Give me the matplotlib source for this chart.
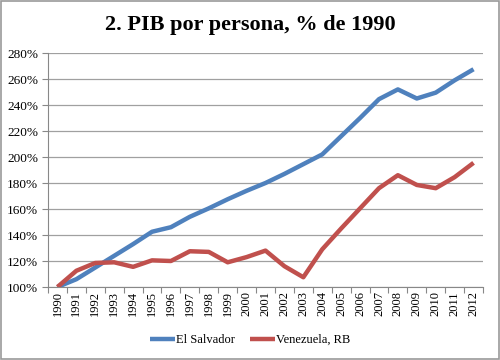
import matplotlib
matplotlib.use("Agg")
import matplotlib.pyplot as plt
from matplotlib.ticker import FixedLocator, FuncFormatter

years = [str(y) for y in range(1990, 2013)]
el_salvador = [100, 106, 115, 124, 133, 142.5, 146, 154, 160.5, 167.5, 174, 180, 187,
               194.5, 202, 216, 230, 244.5, 252, 245, 249.5, 259, 267.5]
venezuela = [100, 112.5, 118.5, 119, 115.5, 120.5, 120, 127.5, 127, 119, 123, 128, 116,
             107.5, 129, 145, 160.5, 176, 186, 178.5, 176, 184.5, 195.5]
yticks = [100, 120, 140, 160, 180, 200, 220, 240, 260, 280]

plt.rcParams['font.family'] = ['Liberation Serif', 'DejaVu Serif']

fig = plt.figure(figsize=(5, 3.6), dpi=100)
ax = fig.add_axes([48/500, 1 - 287/360, (483-48)/500, (287-53)/360])

x = list(range(len(years)))
ax.plot(x, el_salvador, color='#4F81BD', lw=3.2, label='El Salvador', solid_capstyle='butt', zorder=3)
ax.plot(x, venezuela, color='#C0504D', lw=3.2, label='Venezuela, RB', solid_capstyle='butt', zorder=3)

ax.set_xlim(-0.5, len(years) - 0.5)
ax.set_ylim(100, 280)
ax.set_yticks(yticks)
ax.yaxis.set_major_formatter(FuncFormatter(lambda v, p: f"{int(v)}%"))
ax.grid(axis='y', color='#A0A0A0', lw=0.9, zorder=0)

ax.xaxis.set_major_locator(FixedLocator([i - 0.5 for i in range(len(years) + 1)]))
ax.xaxis.set_major_formatter(FuncFormatter(lambda v, p: ""))
ax.set_xticks(x, minor=True)
ax.set_xticklabels(years, minor=True, rotation=90, fontsize=9)
ax.tick_params(axis='x', which='minor', length=0, pad=3)
ax.tick_params(axis='x', which='major', length=4, color='#888888')
ax.tick_params(axis='y', length=4, color='#888888', labelsize=9.5, pad=3)

for s in ['top', 'right']:
    ax.spines[s].set_visible(False)
ax.spines['left'].set_color('#888888')
ax.spines['bottom'].set_color('#888888')

fig.text(0.5, 1 - 25/360, '2. PIB por persona, % de 1990', ha='center', va='center',
         fontsize=16, fontweight='bold')

fig.legend(loc='center', bbox_to_anchor=(0.5, 1 - 340/360), ncol=2, frameon=False,
           fontsize=9, handlelength=2.0, columnspacing=1.2, handletextpad=0.1)

border = plt.Rectangle((0.002, 0.003), 0.995, 0.994, transform=fig.transFigure,
                       fill=False, edgecolor='#999999', lw=1.2)
fig.patches.append(border)

fig.savefig('out.png', dpi=100)
